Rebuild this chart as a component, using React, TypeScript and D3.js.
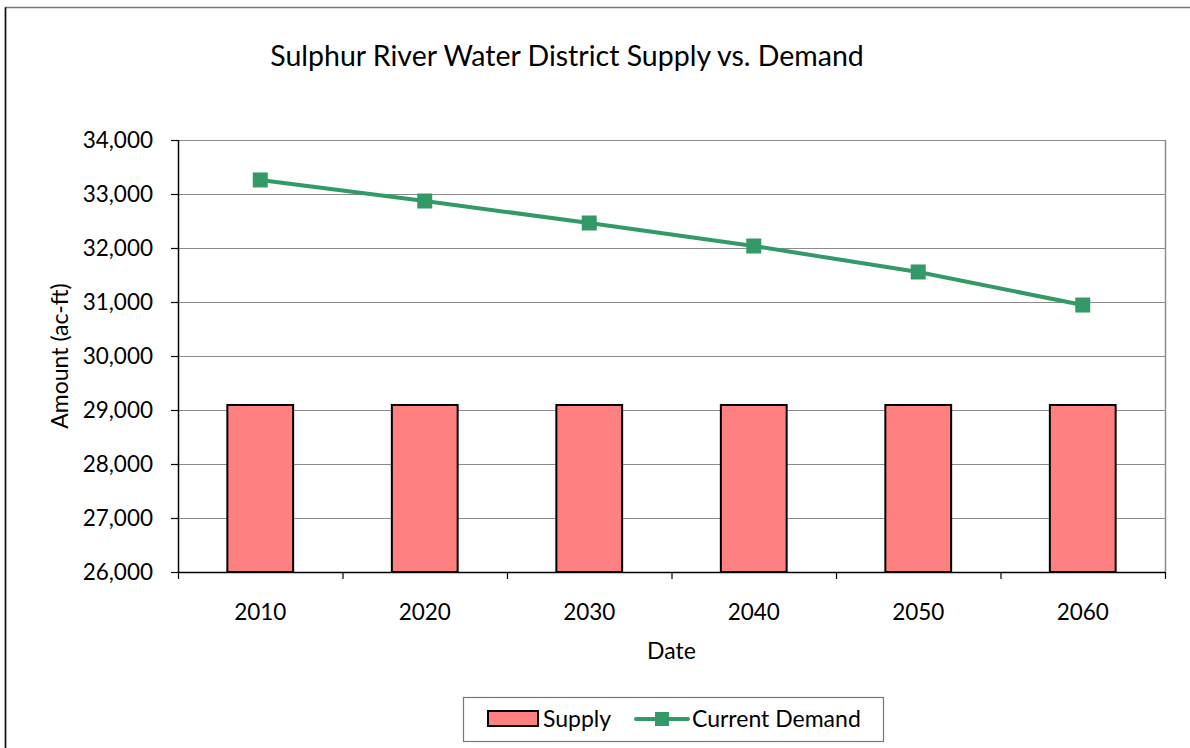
import React from 'react'
import * as d3 from 'd3'

const years = ['2010', '2020', '2030', '2040', '2050', '2060']
const supply = [29093, 29093, 29093, 29093, 29093, 29093]
const demand = [33260, 32870, 32463, 32037, 31556, 30944]
const yTicks = [26000, 27000, 28000, 29000, 30000, 31000, 32000, 33000, 34000]

const FONT = 'Lato, "Open Sans", sans-serif'
const GREEN = '#339966'
const PINK = '#FF8080'

const App = () => {
    const ref = React.useRef<SVGSVGElement | null>(null)

    React.useEffect(() => {
        const width = 1190
        const height = 748
        const svg = d3.select(ref.current)
        svg.selectAll('*').remove()

        const margin = { top: 140, right: 25, bottom: 176, left: 178 }
        const innerWidth = width - margin.left - margin.right
        const innerHeight = height - margin.top - margin.bottom

        // outer chart frame
        svg.append('rect')
            .attr('x', 5.5)
            .attr('y', 7.5)
            .attr('width', width + 20)
            .attr('height', height + 20)
            .attr('fill', 'white')
            .attr('stroke', '#777')
            .attr('stroke-width', 1.5)
        svg.append('line')
            .attr('x1', 5.5).attr('y1', 7.5)
            .attr('x2', 5.5).attr('y2', height)
            .attr('stroke', '#111').attr('stroke-width', 1.5)

        svg.append('text')
            .attr('x', 567)
            .attr('y', 66)
            .attr('text-anchor', 'middle')
            .style('font-family', FONT)
            .style('font-size', '28.5px')
            .text('Sulphur River Water District Supply vs. Demand')

        const g = svg.append('g')
            .attr('transform', 'translate(' + margin.left + ',' + margin.top + ')')

        const xScale = d3.scaleBand()
            .domain(years)
            .range([0, innerWidth])
            .paddingInner(0)
            .paddingOuter(0)

        const yScale = d3.scaleLinear()
            .domain([26000, 34000])
            .range([innerHeight, 0])

        // gridlines
        g.selectAll('.grid')
            .data(yTicks.filter((d) => d > 26000))
            .enter()
            .append('line')
            .attr('class', 'grid')
            .attr('x1', 0)
            .attr('x2', innerWidth)
            .attr('y1', (d) => Math.round(yScale(d)) + 0.5)
            .attr('y2', (d) => Math.round(yScale(d)) + 0.5)
            .attr('stroke', '#8c8c8c')
            .attr('stroke-width', 1.2)

        // right border of plot area
        g.append('line')
            .attr('x1', innerWidth + 0.5).attr('x2', innerWidth + 0.5)
            .attr('y1', 0).attr('y2', innerHeight)
            .attr('stroke', '#8c8c8c').attr('stroke-width', 1.5)

        // bars
        const barW = xScale.bandwidth() * 0.4
        g.selectAll('.bar')
            .data(years)
            .enter()
            .append('rect')
            .attr('class', 'bar')
            .attr('x', (d) => (xScale(d) as number) + (xScale.bandwidth() - barW) / 2)
            .attr('y', (d, i) => yScale(supply[i]))
            .attr('width', barW)
            .attr('height', (d, i) => innerHeight - yScale(supply[i]))
            .attr('fill', PINK)
            .attr('stroke', 'black')
            .attr('stroke-width', 2)

        // demand line
        const line = d3.line<number>()
            .x((d, i) => (xScale(years[i]) as number) + xScale.bandwidth() / 2)
            .y((d) => yScale(d))
        g.append('path')
            .datum(demand)
            .attr('d', line)
            .attr('fill', 'none')
            .attr('stroke', GREEN)
            .attr('stroke-width', 4)

        const ms = 15
        g.selectAll('.marker')
            .data(demand)
            .enter()
            .append('rect')
            .attr('class', 'marker')
            .attr('x', (d, i) => (xScale(years[i]) as number) + xScale.bandwidth() / 2 - ms / 2)
            .attr('y', (d) => yScale(d) - ms / 2)
            .attr('width', ms)
            .attr('height', ms)
            .attr('fill', GREEN)

        // y axis
        g.append('line')
            .attr('x1', 0.5).attr('x2', 0.5)
            .attr('y1', 0).attr('y2', innerHeight)
            .attr('stroke', 'black').attr('stroke-width', 1.5)
        const yLabels = g.selectAll('.y-label')
            .data(yTicks)
            .enter()
            .append('g')
            .attr('class', 'y-label')
        yLabels.append('line')
            .attr('x1', -7).attr('x2', 0)
            .attr('y1', (d) => Math.round(yScale(d)) + 0.5)
            .attr('y2', (d) => Math.round(yScale(d)) + 0.5)
            .attr('stroke', 'black').attr('stroke-width', 1.2)
        yLabels.append('text')
            .attr('x', -25)
            .attr('y', (d) => yScale(d))
            .attr('dy', '0.35em')
            .style('text-anchor', 'end')
            .style('font-family', FONT)
            .style('font-size', '22.5px')
            .text((d) => d3.format(',')(d))

        // x axis
        g.append('line')
            .attr('x1', 0).attr('x2', innerWidth)
            .attr('y1', innerHeight + 0.5).attr('y2', innerHeight + 0.5)
            .attr('stroke', 'black').attr('stroke-width', 1.5)
        g.selectAll('.x-tick')
            .data(d3.range(years.length + 1))
            .enter()
            .append('line')
            .attr('class', 'x-tick')
            .attr('x1', (d) => d * xScale.step() + 0.5)
            .attr('x2', (d) => d * xScale.step() + 0.5)
            .attr('y1', innerHeight)
            .attr('y2', innerHeight + 7)
            .attr('stroke', 'black').attr('stroke-width', 1.2)
        g.selectAll('.x-label')
            .data(years)
            .enter()
            .append('text')
            .attr('class', 'x-label')
            .attr('x', (d) => (xScale(d) as number) + xScale.bandwidth() / 2)
            .attr('y', innerHeight + 48)
            .attr('text-anchor', 'middle')
            .style('font-family', FONT)
            .style('font-size', '22.5px')
            .text((d) => d)

        // axis titles
        g.append('text')
            .attr('x', innerWidth / 2)
            .attr('y', innerHeight + 87)
            .attr('text-anchor', 'middle')
            .style('font-family', FONT)
            .style('font-size', '23px')
            .text('Date')
        g.append('text')
            .attr('transform', 'translate(' + (-110) + ',' + innerHeight / 2 + ') rotate(-90)')
            .attr('text-anchor', 'middle')
            .style('font-family', FONT)
            .style('font-size', '23px')
            .text('Amount (ac-ft)')

        // legend
        const lg = svg.append('g').attr('transform', 'translate(463,697)')
        lg.append('rect')
            .attr('x', 0.5).attr('y', 0.5)
            .attr('width', 420).attr('height', 44)
            .attr('fill', 'white')
            .attr('stroke', '#777').attr('stroke-width', 1.2)
        lg.append('rect')
            .attr('x', 25).attr('y', 14)
            .attr('width', 50).attr('height', 15)
            .attr('fill', PINK)
            .attr('stroke', 'black').attr('stroke-width', 2)
        lg.append('text')
            .attr('x', 80).attr('y', 22)
            .attr('dy', '0.35em')
            .style('font-family', FONT)
            .style('font-size', '23px')
            .text('Supply')
        lg.append('line')
            .attr('x1', 173).attr('x2', 225)
            .attr('y1', 22).attr('y2', 22)
            .attr('stroke', GREEN).attr('stroke-width', 4)
            .attr('stroke-linecap', 'round')
        lg.append('rect')
            .attr('x', 192).attr('y', 15)
            .attr('width', 14).attr('height', 14)
            .attr('fill', GREEN)
        lg.append('text')
            .attr('x', 229).attr('y', 22)
            .attr('dy', '0.35em')
            .style('font-family', FONT)
            .style('font-size', '23px')
            .text('Current Demand')
    }, [])

    return (
        <div style={{ position: 'absolute', left: 0, top: 0, width: '1190px', height: '748px', overflow: 'hidden' }}>
            <svg ref={ref} width={1190} height={748} style={{ display: 'block' }}></svg>
        </div>
    )
}

export default App
